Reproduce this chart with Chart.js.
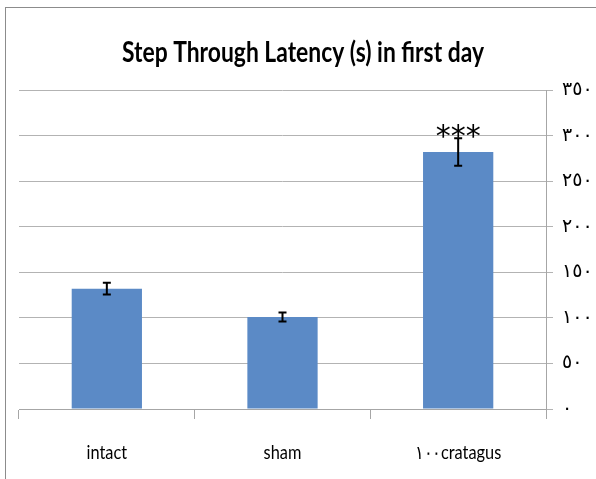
<!DOCTYPE html>
<html>
<head>
<meta charset="utf-8">
<script src="https://cdn.jsdelivr.net/npm/chart.js@4"></script>
<style>
  html, body { margin: 0; padding: 0; background: #fff; }
  #wrap { position: relative; width: 596px; height: 479px; overflow: hidden; }
  #frame { position: absolute; left: 5px; top: 7px; width: 700px; height: 600px;
           border-left: 1px solid #8c8c8c; border-top: 1px solid #8c8c8c; }
  canvas { position: absolute; left: 0; top: 0; }
</style>
</head>
<body>
<div id="wrap">
  <div id="frame"></div>
  <canvas id="chart" width="596" height="479"></canvas>
</div>
<script>
// chart data
const categories = ['intact', 'sham', '\u0661\u0660\u0660cratagus'];
const latency = [132, 101, 282];
const errors = [6.5, 5, 15];
const yTicks = [0, 50, 100, 150, 200, 250, 300, 350];
const starLabels = ['', '', '***'];

const arabicDigits = ['\u0660', '\u0661', '\u0662', '\u0663', '\u0664', '\u0665', '\u0666', '\u0667', '\u0668', '\u0669'];
function toArabic(n) {
    return String(n).split('').map(d => arabicDigits[+d]).join('');
}

// draws text squeezed sideways (the original font is a narrow one)
function narrowText(ctx, text, x, y, font, sx) {
    ctx.save();
    ctx.font = font;
    ctx.textAlign = 'center';
    ctx.textBaseline = 'alphabetic';
    ctx.translate(x, y);
    ctx.scale(sx, 1);
    ctx.fillText(text, 0, 0);
    ctx.restore();
}

// title, category labels, error bars and stars
const extrasPlugin = {
    id: 'extras',
    afterDatasetsDraw(chart) {
        const ctx = chart.ctx;
        const meta = chart.getDatasetMeta(0);
        const y = chart.scales.y;
        const x = chart.scales.x;
        ctx.save();
        ctx.strokeStyle = '#000';
        ctx.lineWidth = 2;
        meta.data.forEach((bar, i) => {
            const top = y.getPixelForValue(latency[i] + errors[i]);
            const bot = y.getPixelForValue(latency[i] - errors[i]);
            ctx.beginPath();
            ctx.moveTo(bar.x, top); ctx.lineTo(bar.x, bot);
            ctx.moveTo(bar.x - 4, top); ctx.lineTo(bar.x + 4, top);
            ctx.moveTo(bar.x - 4, bot); ctx.lineTo(bar.x + 4, bot);
            ctx.stroke();
            if (starLabels[i]) {
                ctx.fillStyle = '#000';
                ctx.font = '30px "DejaVu Sans"';
                ctx.textAlign = 'center';
                ctx.textBaseline = 'middle';
                ctx.fillText(starLabels[i], bar.x, top);
            }
        });
        ctx.fillStyle = '#000';
        categories.forEach((c, i) => {
            narrowText(ctx, c, x.getPixelForValue(i), 459, '19px Lato', 0.86);
        });
        // title
        ctx.font = 'bold 29px Lato';
        const title = 'Step Through Latency (s) in first day';
        const w = ctx.measureText(title).width;
        narrowText(ctx, title, 303, 62, 'bold 29px Lato', 362 / w);
        ctx.restore();
    }
};

new Chart(document.getElementById('chart'), {
    type: 'bar',
    data: {
        labels: categories,
        datasets: [{
            data: latency,
            backgroundColor: '#5B8AC6',
            borderWidth: 0,
            barPercentage: 0.8,
            categoryPercentage: 0.5
        }]
    },
    options: {
        responsive: false,
        animation: false,
        layout: { padding: { left: 19, top: 90, right: 0, bottom: 0 } },
        plugins: { legend: { display: false }, tooltip: { enabled: false } },
        scales: {
            x: {
                grid: { drawOnChartArea: false, drawTicks: true, tickLength: 10, color: '#a6a6a6', offset: true },
                border: { display: true, color: '#a6a6a6' },
                ticks: { display: false },
                afterFit(scale) { scale.height = 70; }
            },
            y: {
                position: 'right',
                min: 0,
                max: 350,
                afterBuildTicks(scale) { scale.ticks = yTicks.map(v => ({ value: v })); },
                grid: { color: '#b3b3b3', tickLength: 7 },
                border: { display: true, color: '#a6a6a6' },
                ticks: {
                    color: '#000',
                    font: { family: 'DejaVu Sans', size: 19 },
                    padding: 9,
                    callback: v => toArabic(v)
                },
                afterFit(scale) { scale.width = 50; }
            }
        }
    },
    plugins: [extrasPlugin]
});
</script>
</body>
</html>
